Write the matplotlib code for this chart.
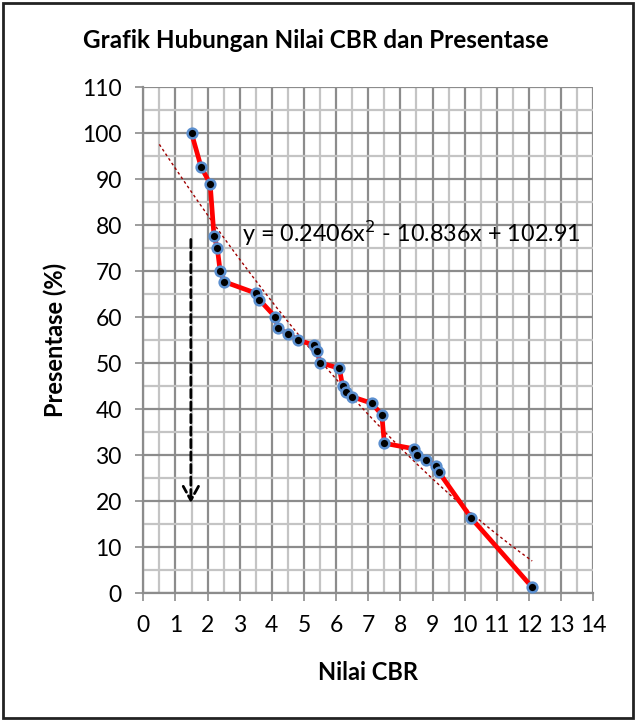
import numpy as np
import matplotlib
matplotlib.use("Agg")
import matplotlib.pyplot as plt
from matplotlib.ticker import MultipleLocator
from matplotlib.patches import Rectangle

plt.rcParams['font.family'] = ['Lato', 'DejaVu Sans']

# data
cbr = [1.50, 1.80, 2.08, 2.20, 2.30, 2.39, 2.52, 3.51, 3.61, 4.10,
       4.19, 4.49, 4.80, 5.31, 5.41, 5.50, 6.10, 6.20, 6.30, 6.50,
       7.11, 7.42, 7.50, 8.42, 8.52, 8.80, 9.11, 9.20, 10.21, 12.10]
pct = [100.0, 92.6, 89.0, 77.7, 75.1, 70.1, 67.7, 65.2, 63.8, 60.1,
       57.6, 56.4, 55.1, 53.9, 52.6, 50.1, 48.9, 45.1, 43.8, 42.7,
       41.3, 38.8, 32.6, 31.4, 30.1, 28.9, 27.6, 26.3, 16.3, 1.3]

# polynomial trendline as printed on the chart
coef = [0.2406, -10.836, 102.91]
trend_from, trend_to = 0.5, 12.1

major_c = "#8c8c8c"
minor_c = "#c4c4c4"

fig = plt.figure(figsize=(6.36, 7.2), dpi=100)
ax = fig.add_axes([0.2253, 0.176, 0.7075, 0.703])

ax.set_xlim(0, 14)
ax.set_ylim(0, 110)
ax.xaxis.set_major_locator(MultipleLocator(1))
ax.xaxis.set_minor_locator(MultipleLocator(0.5))
ax.yaxis.set_major_locator(MultipleLocator(10))
ax.yaxis.set_minor_locator(MultipleLocator(5))

ax.grid(which="minor", color=minor_c, lw=1.6, zorder=0)
ax.grid(which="major", color=major_c, lw=1.6, zorder=0)
ax.set_axisbelow(True)

for s in ["top", "right"]:
    ax.spines[s].set_visible(False)
for s in ["left", "bottom"]:
    ax.spines[s].set_color(major_c)
    ax.spines[s].set_linewidth(1.6)

ax.tick_params(which="major", direction="out", length=5.5, width=1.2,
               color=major_c, labelsize=16.5)
ax.tick_params(axis="x", pad=10)
ax.tick_params(axis="y", pad=10)
ax.tick_params(which="minor", length=0)

xt = np.linspace(trend_from, trend_to, 200)
ax.plot(xt, np.polyval(coef, xt), color="#a00000", lw=1.0,
        linestyle=(0, (2, 2)), zorder=2)

ax.plot(cbr, pct, color="#ff0000", lw=3.4, zorder=3, clip_on=False,
        marker="o", markersize=7, markerfacecolor="black",
        markeredgecolor="#5b8fcf", markeredgewidth=1.8)

ax.text(3.07, 78.3, "y = 0.2406x$^2$ - 10.836x + 102.91", fontsize=16.8,
        va="center", ha="left", zorder=4)

ax.annotate("", xy=(1.48, 19.0), xytext=(1.48, 77.5),
            arrowprops=dict(arrowstyle="->,head_length=1.0,head_width=0.55",
                            color="black", lw=2, linestyle=(0, (3, 1.5))),
            zorder=5)

ax.set_xlabel("Nilai CBR", fontsize=17, fontweight="bold", labelpad=18)
ax.set_ylabel("Presentase (%)", fontsize=17, fontweight="bold", labelpad=11)
fig.text(0.497, 0.944, "Grafik Hubungan Nilai CBR dan Presentase",
         fontsize=17.5, fontweight="bold", ha="center", va="center")

fig.patches.append(Rectangle((0.004, 0.003), 0.991, 0.993, transform=fig.transFigure,
                             fill=False, edgecolor="#222222", lw=2))

fig.savefig("out.png", dpi=100)
